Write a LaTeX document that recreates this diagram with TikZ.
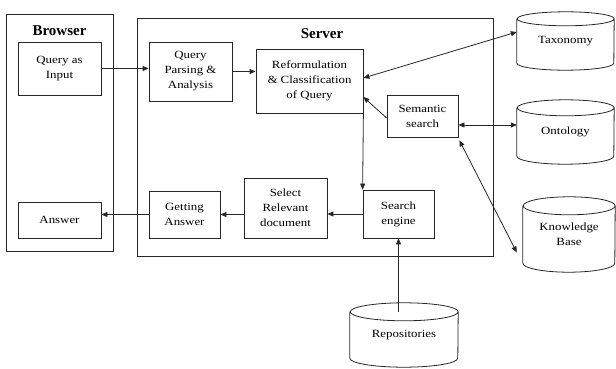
\documentclass[tikz,border=0pt]{standalone}
\usepackage{fontspec}
\setmainfont{Liberation Serif}
\newfontfamily\boxfont[FakeStretch=1.17]{Liberation Serif}
\usetikzlibrary{arrows.meta,calc}
\tikzset{
  frame/.style={draw=black!85, line width=0.8pt},
  box/.style={frame, inner sep=0pt, align=center, font=\boxfont\fontsize{11}{15}\selectfont},
  ttl/.style={inner sep=0pt, font=\bfseries\fontsize{15}{18}\selectfont},
  cyltext/.style={inner sep=0pt, align=center, font=\boxfont\fontsize{11}{15}\selectfont},
  arr/.style={line width=0.8pt, draw=black!85, -{Triangle[length=6pt,width=5pt]}},
  darr/.style={line width=0.8pt, draw=black!85, {Triangle[length=6pt,width=5pt]}-{Triangle[length=6pt,width=5pt]}}
}
\newcommand\drawcyl[3]{%
  \draw[frame] ([yshift=-#3pt]#1.north west) -- ([yshift=#3pt]#1.south west)
    arc[start angle=180, end angle=360, x radius=#2pt, y radius=#3pt]
    -- ([yshift=-#3pt]#1.north east)
    arc[start angle=0, end angle=360, x radius=#2pt, y radius=#3pt];}
\begin{document}
\begin{tikzpicture}[x=1pt,y=1pt]
\useasboundingbox (0,0) rectangle (616,368);
% containers
\node[frame, minimum width=107pt, minimum height=237pt, inner sep=0pt] (browser) at (59.5,235.5) {};
\node[frame, minimum width=356pt, minimum height=238pt, inner sep=0pt] (server) at (315,231) {};
\node[ttl] (btitle) at (59.5,337) {Browser};
\node[ttl] (stitle) at (322,334) {Server};
% boxes
\node[box, minimum width=83pt, minimum height=53pt] (qin) at (59.5,299.5) {Query as\\Input};
\node[box, minimum width=83pt, minimum height=36pt] (ans) at (59.5,148) {Answer};
\node[box, minimum width=83pt, minimum height=59pt] (qpa) at (190.5,296.5) {Query\\Parsing \&\\Analysis};
\node[box, minimum width=107pt, minimum height=64pt] (ref) at (309.5,287) {Reformulation\\\& Classification\\of Query};
\node[box, minimum width=71pt, minimum height=42pt] (sem) at (422.5,252) {Semantic\\search};
\node[box, minimum width=71pt, minimum height=48pt] (se) at (398.5,154) {Search\\engine};
\node[box, minimum width=83pt, minimum height=60pt] (srd) at (285.5,160) {Select\\Relevant\\document};
\node[box, minimum width=71pt, minimum height=47pt] (ga) at (184.5,153.5) {Getting\\Answer};
% cylinders
\node[cyltext, minimum width=97pt, minimum height=58pt] (tax) at (565.5,327) {Taxonomy};
\node[cyltext, minimum width=97pt, minimum height=64pt] (ont) at (565.5,236) {Ontology};
\node[cyltext, minimum width=92pt, minimum height=75pt] (kb) at (569,133.5) {Knowledge\\Base};
\node[cyltext, minimum width=108pt, minimum height=64pt] (rep) at (404,33) {Repositories};
\drawcyl{tax}{48.5}{7}
\drawcyl{ont}{48.5}{8}
\drawcyl{kb}{46}{9}
\drawcyl{rep}{54}{9}
% connectors
\draw[arr] (qin.east) -- (qin.east -| qpa.west);
\draw[arr] (qpa.east) -- (qpa.east -| ref.west);
\draw[darr] ([yshift=3pt]ref.east) -- ([yshift=9pt]tax.west);
\draw[arr] ([yshift=-2pt]sem.west) -- ([yshift=-16pt]ref.east);
\draw[darr] ([yshift=-9pt]sem.east) -- ([yshift=-9pt]sem.east -| ont.west);
\draw[darr] ([xshift=1pt,yshift=-3pt]sem.south east) -- ([xshift=-6pt,yshift=-18pt]kb.west);
\draw[arr] (ref.south east) -- (se.north west);
\draw[arr] (se.west) -- (se.west -| srd.east);
\draw[arr] (srd.west |- ga.east) -- (ga.east);
\draw[arr] (ga.west) -- (ga.west -| ans.east);
\coordinate (reptop) at ([yshift=-9pt]rep.north);
\draw[arr] (se.south |- reptop) -- (se.south);
\end{tikzpicture}
\end{document}
